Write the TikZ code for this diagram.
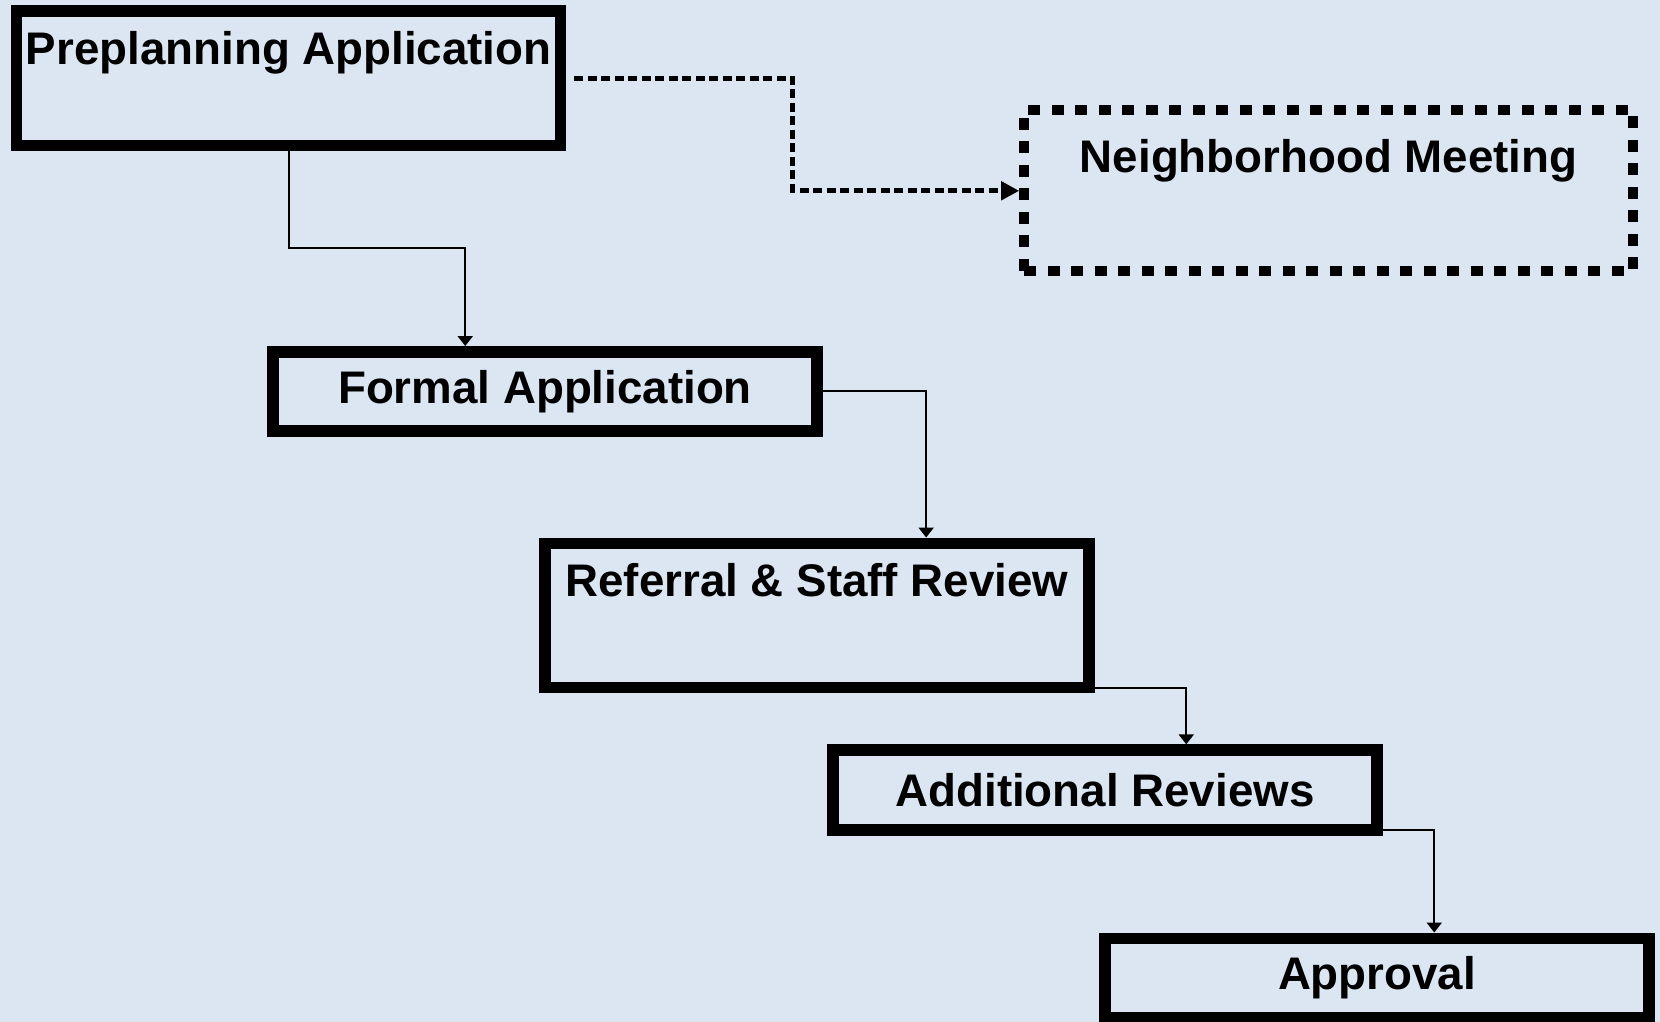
\documentclass[tikz,border=0pt]{standalone}
\usepackage{fontspec}
\setmainfont{Liberation Sans}
\usetikzlibrary{arrows.meta}
\definecolor{bgblue}{RGB}{220,230,242}

\begin{document}
\begin{tikzpicture}[x=1cm,y=1cm,
  stage/.style={draw,line width=0.115cm,minimum width=5.44cm,inner sep=0pt,align=center,font=\fontsize{13}{15.6}\selectfont\bfseries},
  meetbox/.style={stage,line width=0.1cm,dash pattern=on 0.12cm off 0.115cm,minimum width=6.09cm},
  conn/.style={line width=0.02cm,-{Triangle[length=0.1cm,width=0.15cm]}},
  dotconn/.style={line width=0.05cm,dash pattern=on 0.09cm off 0.045cm,-{Triangle[length=0.18cm,width=0.18cm]}}]
\fill[bgblue] (0,0) rectangle (16.6,-10.22);
\useasboundingbox (0,0) rectangle (16.6,-10.22);
\node[stage,minimum height=1.343cm] (pre) at (2.887,-0.784) {Preplanning Application\\[1.5pt]\mbox{}};
\node[meetbox,minimum height=1.61cm] (meet) at (13.287,-1.908) {Neighborhood Meeting\\[4.3pt]\mbox{}};
\node[stage,minimum height=0.79cm] (formal) at (5.45,-3.913) {Formal Application};
\node[stage,minimum height=1.442cm] (ref) at (8.169,-6.154) {Referral \& Staff Review\\[4.3pt]\mbox{}};
\node[stage,minimum height=0.8cm] (add) at (11.05,-7.901) {Additional Reviews};
\node[stage,minimum height=0.795cm] (appr) at (13.77,-9.78) {Approval};
\draw[dotconn] ([xshift=0.08cm]pre.east) -- ++(2.185,0) |- (meet.west);
\draw[conn] (pre.south) -- ++(0,-0.966) -| ([xshift=1.98cm]formal.north west);
\draw[conn] (formal.east) -| ([xshift=3.87cm]ref.north west);
\draw[conn] ([yshift=0.0575cm]ref.south east) -| ([xshift=3.59cm]add.north west);
\draw[conn] ([yshift=0.0575cm]add.south east) -| ([xshift=3.35cm]appr.north west);
\end{tikzpicture}
\end{document}
